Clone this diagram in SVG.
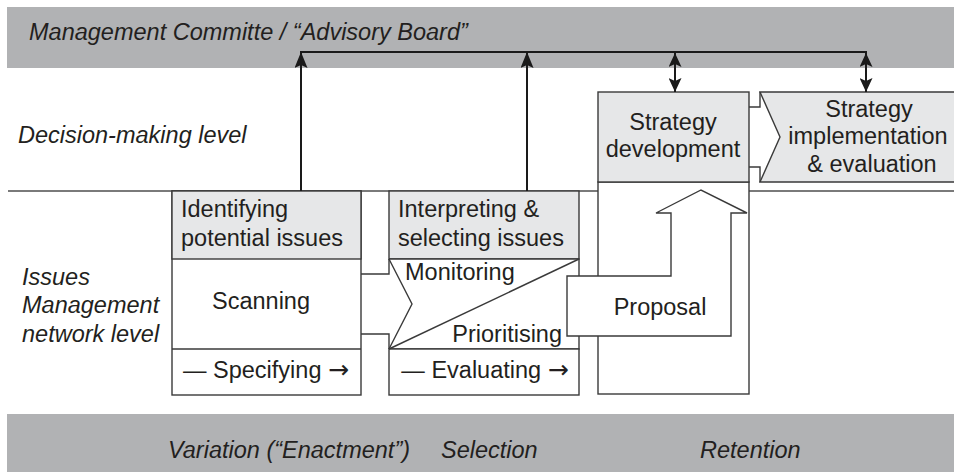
<svg xmlns="http://www.w3.org/2000/svg" width="954" height="472" viewBox="0 0 954 472">
<style>
text{font-family:"Liberation Sans",Arial,sans-serif;font-size:23.5px;fill:#231f20}
.it{font-style:italic}
.mid{text-anchor:middle}
.end{text-anchor:end}
.arr{font-family:"DejaVu Sans",sans-serif;font-size:25px}
.band{fill:#b1b2b4}
.hdr{fill:#e6e7e8;stroke:#3a3a3a;stroke-width:1.4}
.wht{fill:#fff;stroke:#3a3a3a;stroke-width:1.4}
.ln{fill:none;stroke:#3a3a3a;stroke-width:1.4}
.conn{fill:none;stroke:#1a1a1a;stroke-width:2}
</style>
<defs>
<marker id="headUp" markerUnits="userSpaceOnUse" viewBox="0 0 16 13" refX="16" refY="6.5" markerWidth="16" markerHeight="13" orient="auto">
<path d="M0,0 L16,6.5 L0,13 L3,6.5 Z" fill="#1a1a1a"/>
</marker>
<marker id="headD" markerUnits="userSpaceOnUse" viewBox="0 0 14 13" refX="14" refY="6.5" markerWidth="14" markerHeight="13" orient="auto-start-reverse">
<path d="M0,0 L14,6.5 L0,13 L3,6.5 Z" fill="#1a1a1a"/>
</marker>
</defs>
<rect width="954" height="472" fill="#fff"/>
<g id="bands">
<rect class="band" x="7" y="7" width="947" height="61"/>
<rect class="band" x="7" y="414" width="947" height="58"/>
<line x1="8" y1="191" x2="954" y2="191" stroke="#7a7a7a" stroke-width="2"/>
</g>
<g id="labels">
<text class="it" x="29" y="40">Management Committe / “Advisory Board”</text>
<text class="it" x="18" y="143">Decision-making level</text>
<text class="it" x="22" y="285">Issues</text>
<text class="it" x="22" y="313">Management</text>
<text class="it" x="22" y="342">network level</text>
<text class="it" x="168" y="458">Variation (“Enactment”)</text>
<text class="it" x="441" y="458">Selection</text>
<text class="it" x="700" y="458">Retention</text>
</g>
<g id="identifying">
<rect class="wht" x="172" y="191" width="189" height="204"/>
<rect class="hdr" x="172" y="191" width="189" height="68"/>
<line class="ln" x1="172" y1="349" x2="361" y2="349"/>
<text x="181" y="217">Identifying</text>
<text x="181" y="246">potential issues</text>
<text class="mid" x="261" y="309">Scanning</text>
<text class="mid" x="266" y="378">— Specifying <tspan class="arr">→</tspan></text>
</g>
<g id="interpreting">
<rect class="hdr" x="389" y="191" width="190" height="68"/>
<path class="wht" d="M389,259 H579 V349 H389"/>
<rect class="wht" x="389" y="349" width="190" height="46"/>
<line class="ln" x1="389" y1="349" x2="579" y2="259"/>
<text x="398" y="217">Interpreting &amp;</text>
<text x="398" y="246">selecting issues</text>
<text x="405" y="280">Monitoring</text>
<text class="end" x="562" y="342">Prioritising</text>
<text class="mid" x="485" y="378">— Evaluating <tspan class="arr">→</tspan></text>
</g>
<g id="strategy-development">
<rect class="wht" x="598" y="182" width="151" height="212"/>
<rect class="hdr" x="598" y="92" width="151" height="90"/>
<text class="mid" x="673" y="130">Strategy</text>
<text class="mid" x="673" y="157">development</text>
</g>
<g id="strategy-implementation">
<path class="hdr" d="M760,92 H957 V182 H760 L780,137 Z"/>
<text class="mid" x="869" y="117">Strategy</text>
<text class="mid" x="868" y="144">implementation</text>
<text class="mid" x="872" y="172">&amp; evaluation</text>
</g>
<g id="connectors">
<polyline class="ln" points="361,274 389,274 389,259"/>
<polyline class="ln" points="361,334 389,334 389,349"/>
<polyline class="ln" points="389,259 412,304 389,349"/>
<polyline class="ln" points="749,107 760,107 760,92"/>
<polyline class="ln" points="749,167 760,167 760,182"/>
<line class="conn" x1="300" y1="52" x2="867" y2="52"/>
<line class="conn" x1="301" y1="191" x2="301" y2="52" marker-end="url(#headUp)"/>
<line class="conn" x1="527" y1="191" x2="527" y2="52" marker-end="url(#headUp)"/>
<line class="conn" x1="675" y1="53" x2="675" y2="92" marker-start="url(#headD)" marker-end="url(#headD)"/>
<line class="conn" x1="866" y1="53" x2="866" y2="92" marker-start="url(#headD)" marker-end="url(#headD)"/>
</g>
<g id="proposal">
<path class="wht" d="M567,276 H671 V213 H656 L701,190 L747,213 H731 V336 H567 Z"/>
<text class="mid" x="660" y="315">Proposal</text>
</g>
</svg>
